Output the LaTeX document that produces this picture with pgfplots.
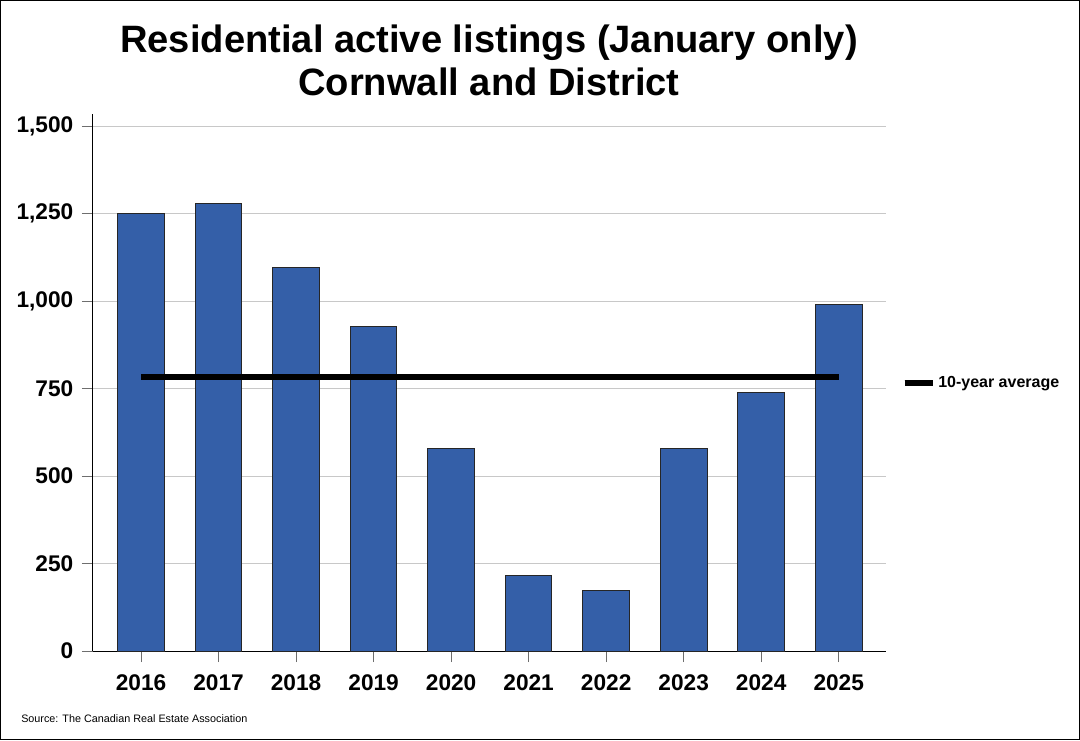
\documentclass[border=0pt]{standalone}
\usepackage{fontspec}
\setmainfont{Liberation Sans}
\usepackage{pgfplots}
\pgfplotsset{compat=1.18}
\definecolor{barblue}{RGB}{52,95,168}
\definecolor{gridgray}{RGB}{200,200,200}
\definecolor{tickgray}{RGB}{110,110,110}
\begin{document}
\begin{tikzpicture}
\draw[black, line width=0.75pt, fill=white] (0.375pt,0.375pt) rectangle (809.625pt,554.625pt);
\node[anchor=base, font=\fontsize{28.6}{32}\selectfont\bfseries] at (366.75pt,515.25pt) {Residential active listings (January only)};
\node[anchor=base, font=\fontsize{28.6}{32}\selectfont\bfseries] at (366.75pt,483pt) {Cornwall and District};
\node[anchor=base west, font=\fontsize{8.1}{10}\selectfont, inner sep=0pt] at (15.75pt,13.5pt) {Source: The Canadian Real Estate Association};
\begin{axis}[
  at={(69.75pt,66.75pt)}, anchor=south west,
  scale only axis,
  width=594.75pt, height=402.6pt,
  xmin=-0.62, xmax=9.61,
  ymin=0, ymax=1534,
  axis x line*=bottom, axis y line*=left,
  axis line style={black, line width=0.75pt},
  xtick={0,...,9},
  xticklabels={2016,2017,2018,2019,2020,2021,2022,2023,2024,2025},
  ytick={0,250,500,750,1000,1250,1500},
  tick align=outside,
  major tick length=8.25pt,
  tick style={tickgray, line width=0.75pt},
  ymajorgrids,
  grid style={gridgray, line width=0.75pt},
  /pgf/number format/assume math mode=true,
  /pgf/number format/1000 sep={,},
  scaled y ticks=false,
  ticklabel style={font=\fontsize{17}{20}\selectfont\bfseries},
  xticklabel style={yshift=-6pt},
  yticklabel style={xshift=-3pt},
  legend style={draw=none, fill=none, at={(1,0.499)}, anchor=west, xshift=11.5pt,
    font=\fontsize{12}{14}\selectfont\bfseries, inner sep=0pt},
  legend image code/.code={\draw[line width=4.5pt, line cap=butt] (0pt,0pt) -- (18.75pt,0pt);\path (0pt,0pt) -- (21pt,0pt);},
  clip=false,
]
\addplot[ybar, bar width=35pt, fill=barblue, draw=black!85, line width=0.75pt, forget plot]
  coordinates {(0,1251) (1,1280) (2,1096) (3,926) (4,579) (5,216) (6,174) (7,579) (8,740) (9,991)};
\addplot[black, line width=4.5pt, line cap=butt, mark=none] coordinates {(0,783) (9,783)};
\addlegendentry{10-year average}
\end{axis}
\end{tikzpicture}
\end{document}
